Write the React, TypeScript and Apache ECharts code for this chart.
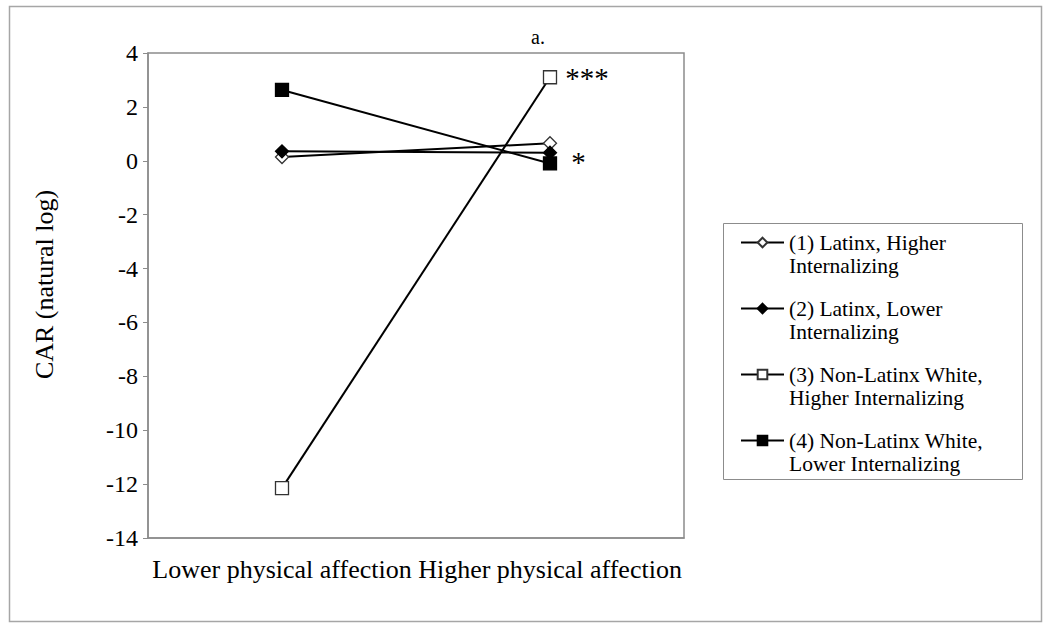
import React, { useEffect, useRef } from "react";
import * as echarts from "echarts";

const categories = ["Lower physical affection", "Higher physical affection"];
const seriesNames = [
  "(1) Latinx, Higher\nInternalizing",
  "(2) Latinx, Lower\nInternalizing",
  "(3) Non-Latinx White,\nHigher Internalizing",
  "(4) Non-Latinx White,\nLower Internalizing",
];
const latinxHigher = [0.14, 0.65];
const latinxLower = [0.35, 0.3];
const nlwHigher = [-12.15, 3.1];
const nlwLower = [2.63, -0.1];
const nlwHigherSig = ["", "***"];
const nlwLowerSig = ["", "*"];
const yTicks = { min: -14, max: 4, interval: 2 };

const FONT = "'Liberation Serif', 'Times New Roman', serif";

export default function App() {
  const ref = useRef<HTMLDivElement>(null);
  useEffect(() => {
    if (!ref.current) return;
    const chart = echarts.init(ref.current, undefined, { renderer: "svg" });

    const mk = (
      name: string,
      values: number[],
      symbol: string,
      size: number,
      filled: boolean,
      sig?: string[]
    ) => ({
      type: "line",
      name,
      symbol,
      symbolSize: size,
      lineStyle: { color: "#000", width: 2 },
      itemStyle: {
        color: filled ? "#000" : "#fff",
        borderColor: filled ? "#000" : "#333",
        borderWidth: 1.3,
      },
      emphasis: { disabled: true },
      data: values.map((v, i) =>
        sig && sig[i]
          ? {
              value: v,
              label: {
                show: true,
                position: "right",
                distance: sig[i].length > 1 ? 8 : 14,
                offset: sig[i].length > 1 ? [0, 1] : [0, -1],
                formatter: sig[i],
                fontFamily: FONT,
                fontSize: 29,
                color: "#000",
              },
            }
          : v
      ),
    });

    chart.setOption({
      animation: false,
      backgroundColor: "#fff",
      title: {
        text: "a.",
        left: 531,
        top: 27,
        padding: 0,
        textStyle: { fontFamily: FONT, fontSize: 20, fontWeight: "normal", color: "#000" },
      },
      grid: {
        left: 148,
        top: 53,
        right: 366,
        bottom: 91,
        show: true,
        borderColor: "#8c8c8c",
        borderWidth: 1.5,
        containLabel: false,
      },
      legend: {
        orient: "vertical",
        left: 740,
        top: 208,
        padding: 0,
        itemGap: -3,
        itemWidth: 43,
        itemHeight: 12,
        selectedMode: false,
        formatter: (name: string) => " \n" + name,
        textStyle: {
          fontFamily: FONT,
          fontSize: 21.5,
          lineHeight: 23,
          color: "#000",
        },
        data: seriesNames,
      },
      xAxis: {
        type: "category",
        data: categories,
        boundaryGap: true,
        axisLine: { show: true, onZero: false, lineStyle: { color: "#8c8c8c", width: 1.5 } },
        axisTick: { show: false },
        axisLabel: { fontFamily: FONT, fontSize: 26, color: "#000", margin: 18, interval: 0 },
        splitLine: { show: false },
      },
      yAxis: {
        type: "value",
        min: yTicks.min,
        max: yTicks.max,
        interval: yTicks.interval,
        name: "CAR (natural log)",
        nameLocation: "middle",
        nameGap: 91,
        nameTextStyle: { fontFamily: FONT, fontSize: 26, color: "#000", padding: [0, 0, 0, 22] },
        axisLine: { show: true, lineStyle: { color: "#8c8c8c", width: 1.5 } },
        axisTick: { show: true, length: 5, lineStyle: { color: "#8c8c8c" } },
        axisLabel: { fontFamily: FONT, fontSize: 24, color: "#000", margin: 10 },
        splitLine: { show: false },
      },
      graphic: [
        {
          type: "rect",
          shape: { x: 9.5, y: 6.5, width: 1032, height: 615 },
          style: { fill: "none", stroke: "#a6a6a6", lineWidth: 1.5 },
          silent: true,
        },
        {
          type: "rect",
          shape: { x: 723.5, y: 223.5, width: 299, height: 256 },
          style: { fill: "none", stroke: "#8c8c8c", lineWidth: 1 },
          silent: true,
        },
      ],
      series: [
        mk(seriesNames[0], latinxHigher, "diamond", 13, false),
        mk(seriesNames[1], latinxLower, "diamond", 13, true),
        mk(seriesNames[2], nlwHigher, "rect", 13, false, nlwHigherSig),
        mk(seriesNames[3], nlwLower, "rect", 13, true, nlwLowerSig),
      ],
    });
    return () => chart.dispose();
  }, []);
  return (
    <div
      ref={ref}
      style={{ position: "fixed", left: 0, top: 0, width: 1050, height: 629, background: "#fff" }}
    />
  );
}
